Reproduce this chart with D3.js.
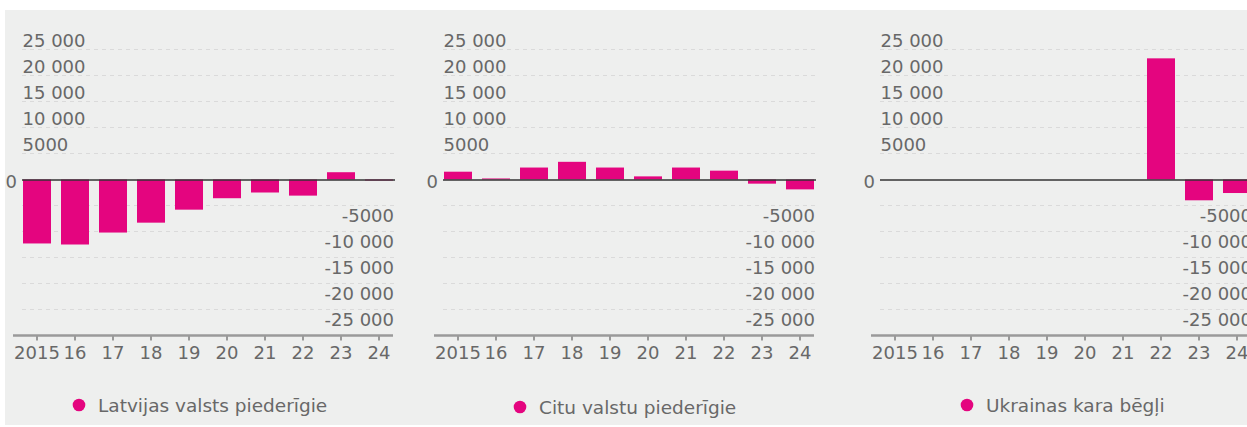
<!DOCTYPE html>
<html><head><meta charset="utf-8">
<script src="https://cdn.jsdelivr.net/npm/d3@7"></script>
<style>
html,body{margin:0;padding:0;background:#fff;}
svg{display:block;font-family:"DejaVu Sans",sans-serif;}
</style></head>
<body>
<svg id="c" width="1247" height="427"></svg>
<script>
const years = ["2015","16","17","18","19","20","21","22","23","24"];
const seriesNames = ["Latvijas valsts piederīgie","Citu valstu piederīgie","Ukrainas kara bēgļi"];
const latvian = [-12300,-12500,-10200,-8300,-5800,-3600,-2500,-3100,1400,-200];
const foreign = [1500,200,2300,3400,2300,600,2300,1700,-800,-1900];
const ukraine = [0,0,0,0,0,0,0,23300,-4000,-2600];
const posTicks = [25000,20000,15000,10000,5000];
const negTicks = [-5000,-10000,-15000,-20000,-25000];
const seriesValues = [latvian, foreign, ukraine];

const svg = d3.select("#c");
svg.append("rect").attr("x",5).attr("y",10).attr("width",1242).attr("height",415).attr("fill","#eeefee");

const panelX = [23, 444, 881];
const legendY = [405, 407, 405];
const legendCX = [79, 520, 967];
const W = 370;
const y = d3.scaleLinear().domain([-30000,30000]).range([335.5,23.5]);
const fmt = v => {
  const a = Math.abs(v);
  const s = a >= 10000 ? d3.format(",")(a).replace(/,/g," ") : String(a);
  return (v<0?"-":"") + s;
};
const txt = "#686868";
const FS = 18;
const LFS = 18.5;

seriesValues.forEach((vals, i) => {
  const x0 = panelX[i];
  const x = d3.scaleBand().domain(years).range([x0, x0+W]).paddingInner(0.263).paddingOuter(0);
  const g = svg.append("g");
  // gridlines
  g.selectAll("line.grid").data(posTicks.concat(negTicks)).join("line")
    .attr("x1", x0-1).attr("x2", x0+W+2)
    .attr("y1", d=>y(d)).attr("y2", d=>y(d))
    .attr("stroke","#dadada").attr("stroke-width",1).attr("stroke-dasharray","4,4");
  // positive labels
  g.selectAll("text.pos").data(posTicks).join("text")
    .attr("x", x0-0.5).attr("y", d=>y(d)-3)
    .attr("fill",txt).attr("font-size",FS).text(fmt);
  g.selectAll("text.neg").data(negTicks).join("text")
    .attr("x", x0+W+1).attr("y", d=>y(d)+16).attr("text-anchor","end")
    .attr("fill",txt).attr("font-size",FS).text(fmt);
  g.append("text").attr("x", x0-6).attr("y", y(0)+8).attr("text-anchor","end")
    .attr("fill",txt).attr("font-size",FS).text("0");
  // bars
  g.selectAll("rect.bar").data(vals.map((v,j)=>({v, k:years[j]}))).join("rect")
    .attr("x", d=>x(d.k)).attr("width", x.bandwidth())
    .attr("y", d=>y(Math.max(0,d.v))).attr("height", d=>Math.abs(y(d.v)-y(0)))
    .attr("fill","#e4057f");
  // zero line
  g.append("line").attr("x1",x0-1).attr("x2",x0+W+2).attr("y1",y(0)+0.5).attr("y2",y(0)+0.5)
    .attr("stroke","#333").attr("stroke-width",1.3);
  // x axis
  const axis = d3.axisBottom(x).tickSize(5).tickPadding(6).tickSizeOuter(0);
  const ag = g.append("g").attr("transform",`translate(0,${y(-30000)})`).call(axis);
  ag.select(".domain").attr("d",`M${x0-10},0H${x0+W}`).attr("stroke","#9a9a9a").attr("stroke-width",2.5);
  ag.selectAll(".tick line").attr("stroke","#9a9a9a").attr("stroke-width",2);
  ag.selectAll(".tick text").attr("fill",txt).attr("font-size",FS).attr("font-family","DejaVu Sans, sans-serif");
  // legend
  g.append("circle").attr("cx",legendCX[i]).attr("cy",legendY[i]).attr("r",6.3).attr("fill","#e4057f");
  g.append("text").attr("x",legendCX[i]+19).attr("y",legendY[i]+6.5).attr("fill",txt).attr("font-size",LFS)
    .text(seriesNames[i]);
});
</script>
</body></html>
